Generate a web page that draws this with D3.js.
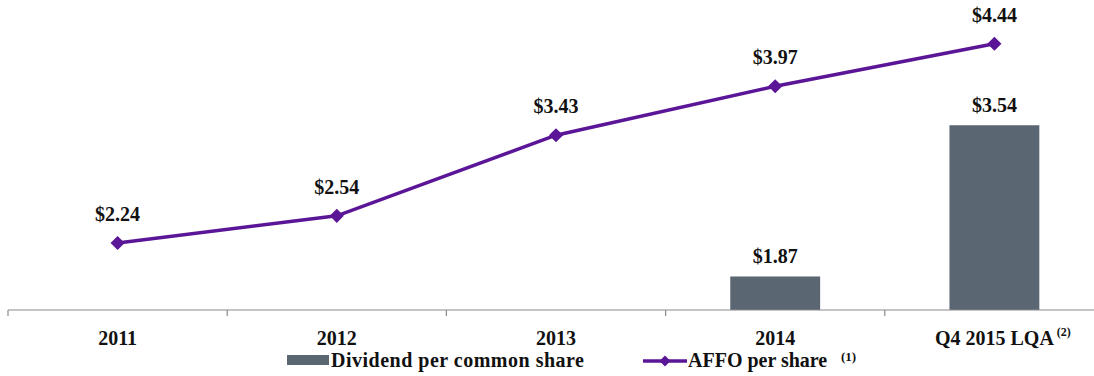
<!DOCTYPE html>
<html>
<head>
<meta charset="utf-8">
<script src="https://cdn.jsdelivr.net/npm/d3@7"></script>
<style>
  body { margin: 0; background: #fff; }
  svg { display: block; }
</style>
</head>
<body>
<svg id="chart" width="1094" height="376" style="font-family:'Liberation Serif','Times New Roman',serif;font-weight:bold"></svg>
<script>
const categories = ["2011", "2012", "2013", "2014", "Q4 2015 LQA"];
const affo = [2.24, 2.54, 3.43, 3.97, 4.44];
const dividend = [null, null, null, 1.87, 3.54];
const catNotes = [null, null, null, null, "(2)"];

const barColor = "#5b6673";
const lineColor = "#5b1697";
const serif = "'Liberation Serif', 'Times New Roman', serif";

const svg = d3.select("#chart");

const x = d3.scaleBand().domain(categories).range([8, 1104]).padding(0);
const y = d3.scaleLinear().domain([1.5, 5]).range([310, -7]);
const bw = x.bandwidth();
const barW = bw * 0.41;

const addText = g =>
  g.style("font-family", serif).style("font-weight", "bold").attr("fill", "#111");

// bars
const barData = categories
  .map((c, i) => ({ c, v: dividend[i] }))
  .filter(d => d.v != null);

svg.append("g")
  .selectAll("rect")
  .data(barData)
  .join("rect")
  .attr("x", d => x(d.c) + bw / 2 - barW / 2)
  .attr("y", d => y(d.v))
  .attr("width", barW)
  .attr("height", d => y(1.5) - y(d.v))
  .attr("fill", barColor);

svg.append("g")
  .selectAll("text")
  .data(barData)
  .join("text")
  .call(addText)
  .attr("x", d => x(d.c) + bw / 2)
  .attr("y", d => y(d.v) - 13)
  .attr("text-anchor", "middle")
  .attr("font-size", 20)
  .text(d => "$" + d.v.toFixed(2));

// axis
const axisG = svg.append("g");
axisG.append("line")
  .attr("x1", 8).attr("x2", 1094)
  .attr("y1", y(1.5)).attr("y2", y(1.5))
  .attr("stroke", "#8a8a8a").attr("stroke-width", 1.2);
axisG.selectAll(".tick")
  .data(categories)
  .join("line")
  .attr("class", "tick")
  .attr("x1", d => x(d)).attr("x2", d => x(d))
  .attr("y1", y(1.5)).attr("y2", y(1.5) + 6)
  .attr("stroke", "#8a8a8a").attr("stroke-width", 1.2);

const labels = axisG.selectAll(".cat")
  .data(categories)
  .join("text")
  .attr("class", "cat")
  .call(addText)
  .attr("x", d => x(d) + bw / 2)
  .attr("y", 345)
  .attr("text-anchor", "middle")
  .attr("font-size", 20)
  .text(d => d);

labels.each(function (d, i) {
  if (!catNotes[i]) return;
  const w = this.getComputedTextLength();
  axisG.append("text")
    .call(addText)
    .attr("x", x(d) + bw / 2 + w / 2 + 3)
    .attr("y", 336)
    .attr("font-size", 12)
    .text(catNotes[i]);
});

// line
const pts = categories.map((c, i) => ({ c, v: affo[i] }));
const line = d3.line().x(d => x(d.c) + bw / 2).y(d => y(d.v));

svg.append("path")
  .datum(pts)
  .attr("d", line)
  .attr("fill", "none")
  .attr("stroke", lineColor)
  .attr("stroke-width", 3.5);

// rotated square markers
const marker = d3.symbol().type(d3.symbolSquare).size(100);
svg.append("g")
  .selectAll("path")
  .data(pts)
  .join("path")
  .attr("transform", d => `translate(${x(d.c) + bw / 2},${y(d.v)}) rotate(45)`)
  .attr("d", marker)
  .attr("fill", lineColor);

svg.append("g")
  .selectAll("text")
  .data(pts)
  .join("text")
  .call(addText)
  .attr("x", d => x(d.c) + bw / 2)
  .attr("y", d => y(d.v) - 22)
  .attr("text-anchor", "middle")
  .attr("font-size", 20)
  .text(d => "$" + d.v.toFixed(2));

// legend
const leg = svg.append("g");
leg.append("rect")
  .attr("x", 287).attr("y", 355)
  .attr("width", 42).attr("height", 10)
  .attr("fill", barColor);
leg.append("text")
  .call(addText)
  .attr("x", 331).attr("y", 367)
  .attr("font-size", 20)
  .attr("letter-spacing", 0.5)
  .text("Dividend per common share");

leg.append("line")
  .attr("x1", 643).attr("x2", 687)
  .attr("y1", 361).attr("y2", 361)
  .attr("stroke", lineColor).attr("stroke-width", 3.5);
leg.append("path")
  .attr("transform", "translate(665,361) rotate(45)")
  .attr("d", d3.symbol().type(d3.symbolSquare).size(60))
  .attr("fill", lineColor);
leg.append("text")
  .call(addText)
  .attr("x", 688).attr("y", 367)
  .attr("font-size", 20)
  .text("AFFO per share");
leg.append("text")
  .call(addText)
  .attr("x", 841).attr("y", 361)
  .attr("font-size", 13)
  .text("(1)");
</script>
</body>
</html>
